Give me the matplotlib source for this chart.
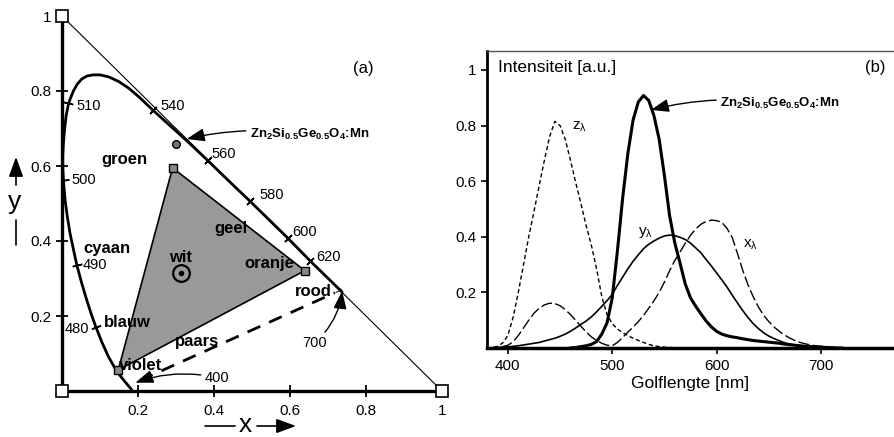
import numpy as np
from matplotlib import pyplot as plt

plt.rcParams['font.family'] = ['Liberation Sans', 'DejaVu Sans']
plt.rcParams['mathtext.fontset'] = 'custom'
plt.rcParams['mathtext.rm'] = 'Liberation Sans'
plt.rcParams['mathtext.bf'] = 'Liberation Sans:bold'
plt.rcParams['mathtext.it'] = 'Liberation Sans:italic'

# ---- (a) chromaticity diagram ----
locus_x = [0.737, 0.653, 0.595, 0.495, 0.438, 0.383, 0.332, 0.285, 0.240, 0.205,
           0.175, 0.148, 0.122, 0.100, 0.082, 0.066, 0.052, 0.040, 0.030, 0.022,
           0.017, 0.011, 0.007, 0.004, 0.002, 0.002, 0.004, 0.008, 0.014, 0.021,
           0.030, 0.039, 0.052, 0.065, 0.077, 0.089, 0.105, 0.122, 0.137, 0.152,
           0.168, 0.183]
locus_y = [0.264, 0.347, 0.407, 0.506, 0.561, 0.615, 0.664, 0.707, 0.748, 0.782,
           0.808, 0.826, 0.838, 0.843, 0.843, 0.840, 0.832, 0.818, 0.800, 0.780,
           0.765, 0.735, 0.700, 0.665, 0.630, 0.595, 0.560, 0.510, 0.465, 0.421,
           0.378, 0.336, 0.287, 0.243, 0.205, 0.171, 0.130, 0.092, 0.065, 0.042,
           0.022, 0.004]

wl_ticks = [480, 490, 500, 510, 540, 560, 580, 600, 620]
wl_tick_x = [0.089, 0.039, 0.004, 0.017, 0.240, 0.383, 0.495, 0.595, 0.653]
wl_tick_y = [0.171, 0.336, 0.562, 0.767, 0.749, 0.617, 0.506, 0.407, 0.347]
wl_label_x = [0.008, 0.054, 0.024, 0.037, 0.258, 0.394, 0.519, 0.607, 0.670]
wl_label_y = [0.165, 0.337, 0.562, 0.759, 0.759, 0.632, 0.522, 0.424, 0.358]

gamut_x = [0.148, 0.291, 0.639]
gamut_y = [0.056, 0.595, 0.321]
white_pt = (0.313, 0.314)
phosphor_pt = (0.299, 0.658)
purple_x = [0.205, 0.718]
purple_y = [0.028, 0.262]
corner_x = [0, 0, 1]
corner_y = [1, 0, 0]

colour_names = ['groen', 'cyaan', 'blauw', 'violet', 'paars', 'wit', 'geel', 'oranje', 'rood']
colour_x = [0.163, 0.118, 0.171, 0.208, 0.355, 0.313, 0.445, 0.545, 0.661]
colour_y = [0.605, 0.368, 0.171, 0.056, 0.120, 0.345, 0.422, 0.328, 0.253]

# ---- (b) spectra, values (5 nm steps) ----
wl = np.arange(380, 731, 5)
z_bar = [0, 0.002, 0.006, 0.018, 0.045, 0.11, 0.20, 0.30, 0.40, 0.49,
         0.585, 0.675, 0.76, 0.815, 0.80, 0.75, 0.675, 0.595, 0.52, 0.44,
         0.37, 0.285, 0.185, 0.12, 0.088, 0.068, 0.055, 0.045, 0.035, 0.027,
         0.02, 0.013, 0.008, 0.005, 0.003, 0.002, 0.001] + [0] * 34
x_bar = [0, 0.001, 0.002, 0.005, 0.01, 0.022, 0.045, 0.072, 0.10, 0.125,
         0.143, 0.155, 0.161, 0.16, 0.152, 0.138, 0.12, 0.10, 0.078, 0.058,
         0.04, 0.027, 0.017, 0.01, 0.008, 0.02, 0.038, 0.057, 0.075, 0.095,
         0.117, 0.143, 0.17, 0.20, 0.237, 0.278, 0.315, 0.345, 0.377, 0.405,
         0.428, 0.445, 0.455, 0.46, 0.458, 0.452, 0.43, 0.397, 0.34, 0.28,
         0.228, 0.185, 0.148, 0.118, 0.095, 0.076, 0.06, 0.047, 0.036, 0.027,
         0.02, 0.015, 0.011, 0.008, 0.006, 0.004, 0.003, 0.002, 0.001, 0, 0]
y_bar = [0, 0.001, 0.002, 0.003, 0.004, 0.006, 0.008, 0.011, 0.014, 0.017,
         0.02, 0.025, 0.03, 0.035, 0.042, 0.05, 0.06, 0.072, 0.085, 0.097,
         0.112, 0.13, 0.15, 0.17, 0.193, 0.225, 0.255, 0.285, 0.312, 0.335,
         0.357, 0.373, 0.385, 0.395, 0.403, 0.406, 0.404, 0.398, 0.39, 0.377,
         0.36, 0.342, 0.318, 0.295, 0.27, 0.245, 0.219, 0.19, 0.162, 0.135,
         0.11, 0.088, 0.07, 0.055, 0.043, 0.034, 0.026, 0.019, 0.014, 0.01,
         0.007, 0.005, 0.003, 0.002, 0.001, 0.001, 0, 0, 0, 0, 0]

em_wl = np.arange(460, 721, 5)
em = [0, 0.002, 0.005, 0.008, 0.013, 0.023, 0.05, 0.09, 0.18, 0.35,
      0.54, 0.70, 0.82, 0.885, 0.908, 0.89, 0.835, 0.75, 0.62, 0.475,
      0.377, 0.305, 0.23, 0.18, 0.15, 0.123, 0.097, 0.076, 0.06, 0.05,
      0.044, 0.04, 0.037, 0.033, 0.03, 0.027, 0.025, 0.023, 0.021, 0.019,
      0.017, 0.014, 0.012, 0.01, 0.008, 0.006, 0.005, 0.004, 0.003, 0.002,
      0.001, 0, 0]

fig = plt.figure(figsize=(8.94, 4.37), dpi=100)

# ================= panel (a) =================
ax1 = fig.add_axes([62 / 894, 46 / 437, 380 / 894, 375 / 437])
ax1.set_xlim(0, 1)
ax1.set_ylim(0, 1)
for s in ['top', 'right']:
    ax1.spines[s].set_visible(False)
for s in ['left', 'bottom']:
    ax1.spines[s].set_linewidth(2.4)

ax1.plot([0, 1], [1, 0], color='k', lw=0.8)
ax1.plot(locus_x, locus_y, color='k', lw=2, solid_joinstyle='round', solid_capstyle='round')
ax1.fill(gamut_x, gamut_y, facecolor='#999999', edgecolor='k', lw=1.2, zorder=2)
ax1.plot(gamut_x, gamut_y, 's', ms=5.5, mfc='#888888', mec='k', mew=1, zorder=3)
ax1.plot(purple_x, purple_y, color='k', lw=2, dashes=(5, 3.5))
ax1.plot(corner_x, corner_y, 's', ms=8.5, mfc='white', mec='k', mew=1.2,
         clip_on=False, zorder=6)

# wavelength tick marks, perpendicular to the locus
lx = np.array(locus_x)
ly = np.array(locus_y)
for w, tx, ty, labx, laby in zip(wl_ticks, wl_tick_x, wl_tick_y, wl_label_x, wl_label_y):
    i = int(np.argmin((lx - tx) ** 2 + (ly - ty) ** 2))
    i0, i1 = max(i - 1, 0), min(i + 1, len(lx) - 1)
    ang = np.degrees(np.arctan2(ly[i1] - ly[i0], lx[i1] - lx[i0]))
    ax1.plot(tx, ty, marker=(2, 2, ang), ms=7, mec='k', mew=1.1)
    ax1.text(labx, laby, str(w), fontsize=10.5, ha='left', va='center')

ax1.plot(*white_pt, 'o', ms=12, mfc='none', mec='k', mew=1.6, zorder=4)
ax1.plot(*white_pt, 'o', ms=3, color='k', zorder=4)
ax1.plot(*phosphor_pt, 'o', ms=5.5, mfc='#777777', mec='k', mew=1, zorder=4)

for name, cx, cy in zip(colour_names, colour_x, colour_y):
    ax1.text(cx, cy, name, fontsize=12, fontweight='bold', ha='center', va='baseline', zorder=5)

arrow = dict(arrowstyle='-|>,head_length=0.55,head_width=0.2', color='k', lw=1,
             mutation_scale=20, shrinkA=1, shrinkB=0)
ax1.annotate(r'$\mathbf{Zn_2Si_{0.5}Ge_{0.5}O_4}$:Mn', xy=(0.328, 0.672),
             xytext=(0.495, 0.683), fontsize=9.5, fontweight='bold', ha='left',
             va='center', arrowprops=dict(arrow, connectionstyle='arc3,rad=0.1'))
ax1.annotate('400', xy=(0.193, 0.022), xytext=(0.376, 0.035), fontsize=10.5,
             ha='left', va='center', arrowprops=dict(arrow, connectionstyle='arc3,rad=0.15'))
ax1.annotate('700', xy=(0.737, 0.267), xytext=(0.631, 0.128), fontsize=10.5,
             ha='left', va='center', arrowprops=dict(arrow, connectionstyle='arc3,rad=0.2'))
ax1.text(0.737, 0.268, '>', fontsize=9, ha='right', va='center')

ax1.set_xticks([0.2, 0.4, 0.6, 0.8, 1])
ax1.set_xticklabels(['0.2', '0.4', '0.6', '0.8', '1'])
ax1.set_yticks([0.2, 0.4, 0.6, 0.8, 1])
ax1.set_yticklabels(['0.2', '0.4', '0.6', '0.8', '1'])
ax1.tick_params(direction='inout', length=8, width=1.3, labelsize=11)
ax1.tick_params(axis='x', pad=5.5)
ax1.tick_params(axis='y', pad=3.5)
ax1.text(0.766, 0.861, '(a)', fontsize=12, ha='left', va='center')

# x / y axis names with arrows
fig.text(245 / 894, 1 - 425 / 437, 'x', fontsize=19, ha='center', va='center')
fig.text(15 / 894, 1 - 202 / 437, 'y', fontsize=19, ha='center', va='center')
ln = dict(arrowstyle='-', color='k', lw=1.2, shrinkA=0, shrinkB=0)
hd = dict(arrowstyle='-|>,head_length=0.6,head_width=0.22', color='k', lw=1.2,
          mutation_scale=20, shrinkA=0, shrinkB=0)
fig_px = 'figure pixels'
ax1.annotate('', xy=(235, 11), xytext=(205, 11), xycoords=fig_px, arrowprops=ln)
ax1.annotate('', xy=(296, 11), xytext=(257, 11), xycoords=fig_px, arrowprops=hd)
ax1.annotate('', xy=(16, 280), xytext=(16, 252), xycoords=fig_px, arrowprops=hd)
ax1.annotate('', xy=(16, 192), xytext=(16, 217), xycoords=fig_px, arrowprops=ln)

# ================= panel (b) =================
ax2 = fig.add_axes([487 / 894, 89 / 437, 407 / 894, 297 / 437])
ax2.set_xlim(380, 770)
ax2.set_ylim(0, 1.068)
ax2.spines['right'].set_visible(False)
ax2.spines['top'].set_linewidth(1)
ax2.spines['top'].set_color('#555555')
ax2.spines['left'].set_linewidth(2)
ax2.spines['bottom'].set_linewidth(2.5)

ax2.plot(wl, z_bar, color='k', lw=1, dashes=(3, 2))
ax2.plot(wl, x_bar, color='k', lw=1, dashes=(8, 2.5))
ax2.plot(wl, y_bar, color='k', lw=1.2)
ax2.plot(em_wl, em, color='k', lw=2.2, solid_joinstyle='round')

ax2.text(461, 0.795, r'z$_{\mathregular{λ}}$', fontsize=11, ha='left', va='center')
ax2.text(525, 0.417, r'y$_{\mathregular{λ}}$', fontsize=11, ha='left', va='center')
ax2.text(625, 0.371, r'x$_{\mathregular{λ}}$', fontsize=11, ha='left', va='center')
ax2.text(390.4, 1.007, 'Intensiteit [a.u.]', fontsize=12.5, ha='left', va='center')
ax2.text(742, 1.007, '(b)', fontsize=12, ha='left', va='center')
ax2.annotate(r'$\mathbf{Zn_2Si_{0.5}Ge_{0.5}O_4}$:Mn', xy=(537, 0.856),
             xytext=(603.6, 0.88), fontsize=9.5, fontweight='bold', ha='left',
             va='center', arrowprops=dict(arrow, connectionstyle='arc3,rad=0.1'))

ax2.set_xticks([400, 500, 600, 700])
ax2.set_yticks([0.2, 0.4, 0.6, 0.8, 1])
ax2.set_yticklabels(['0.2', '0.4', '0.6', '0.8', '1'])
ax2.tick_params(direction='out', length=4, width=1.2, labelsize=11)
ax2.tick_params(axis='x', pad=4)
ax2.tick_params(axis='y', pad=3.5)
ax2.set_xlabel('Golflengte [nm]', fontsize=12.5, labelpad=2)

fig.savefig('out.png', dpi=100)
